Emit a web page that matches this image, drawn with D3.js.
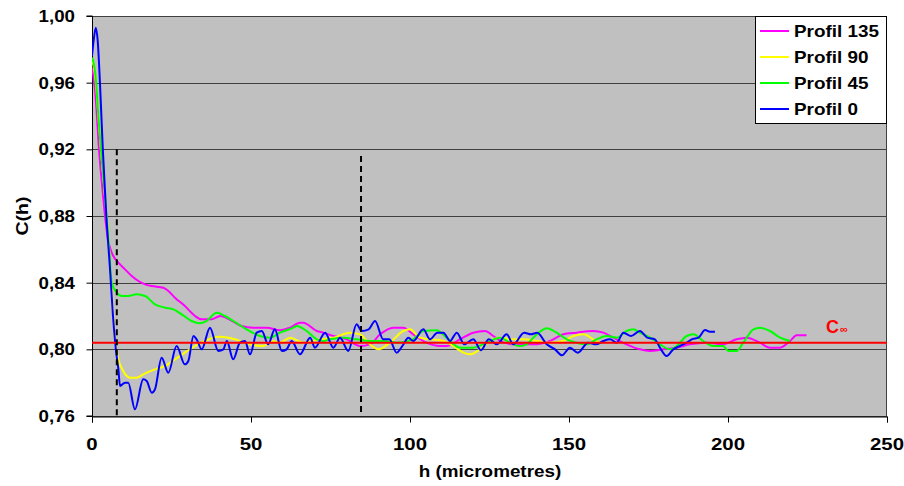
<!DOCTYPE html>
<html>
<head>
<meta charset="utf-8">
<script src="https://cdn.jsdelivr.net/npm/d3@7"></script>
<style>
  html, body { margin: 0; padding: 0; background: #ffffff; }
  svg { display: block; }
  text { font-family: "Liberation Sans", Arial, sans-serif; font-weight: bold; }
</style>
</head>
<body>
<svg id="chart" width="904" height="486"></svg>
<script>
// ---------------- DATA ----------------
const seriesNames = ["Profil 135", "Profil 90", "Profil 45", "Profil 0"];
const seriesColors = ["#FF00FF", "#FFFF00", "#00FF00", "#0000FF"];

const xTicks = [0, 50, 100, 150, 200, 250];
const xTickLabels = ["0", "50", "100", "150", "200", "250"];
const yTicks = [0.76, 0.80, 0.84, 0.88, 0.92, 0.96, 1.00];
const yTickLabels = ["0,76", "0,80", "0,84", "0,88", "0,92", "0,96", "1,00"];

const cInfinity = 0.804;
const dashedLines = [[7.8, 0.92], [84.6, 0.916]];   // [h, top value]

const profil135 = [[0,0.969],[0.5,0.963],[1.2,0.950],[2.2,0.920],[3.2,0.898],[4.1,0.880],[5,0.866],[6,0.859],[6.7,0.856],[8.3,0.852],[10.4,0.848],[12.5,0.844],[14.6,0.841],[16.7,0.839],[18.8,0.838],[22.4,0.837],[24,0.835],[26.1,0.831],[29.2,0.826],[32.4,0.820],[34.5,0.818],[37.6,0.818],[40.3,0.820],[42,0.819],[45,0.816],[47,0.814],[50.7,0.813],[55,0.813],[59.1,0.8114],[62.3,0.813],[65.4,0.816],[66.4,0.816],[70.7,0.811],[72.7,0.810],[75.9,0.808],[80.1,0.806],[84.3,0.802],[87.4,0.803],[90.6,0.809],[94.7,0.813],[97.9,0.813],[101,0.809],[105.2,0.804],[109.4,0.802],[111.5,0.802],[115.7,0.806],[119.9,0.810],[123.6,0.811],[126.2,0.808],[129.5,0.804],[133,0.803],[138.8,0.803],[144,0.805],[148.2,0.809],[152.4,0.810],[157.6,0.811],[160.8,0.810],[163.9,0.807],[168.1,0.803],[172.3,0.800],[175.5,0.799],[179.7,0.800],[183.9,0.801],[188,0.803],[193.3,0.804],[198.5,0.803],[202.7,0.806],[205.9,0.807],[210,0.804],[213.2,0.801],[216.4,0.801],[219.5,0.805],[221.6,0.8084],[224.7,0.8084]];

const profil90 = [[0,0.973],[0.5,0.970],[1.2,0.960],[2,0.940],[2.8,0.920],[3.7,0.900],[4.6,0.880],[5.4,0.860],[6.2,0.835],[7.2,0.806],[8.3,0.794],[9.8,0.787],[12,0.783],[14,0.783],[16.7,0.7856],[19.8,0.788],[23,0.790],[26.1,0.794],[29.2,0.798],[32.4,0.802],[35.5,0.805],[39.7,0.8076],[42.9,0.807],[45,0.806],[49.7,0.803],[53.9,0.802],[57,0.805],[59.1,0.804],[62.3,0.807],[66.4,0.804],[71.7,0.806],[75.9,0.807],[81.1,0.810],[84.3,0.809],[87.4,0.803],[90,0.800],[93.7,0.804],[97.9,0.811],[100,0.812],[103.1,0.807],[106.3,0.806],[110.5,0.805],[113.6,0.802],[116.8,0.798],[118.9,0.797],[122,0.800],[125.2,0.805],[128.3,0.807],[132,0.806],[135.6,0.806],[140,0.805],[144,0.804],[148.2,0.805],[151.4,0.808],[154.6,0.809],[157.6,0.806],[159.7,0.804]];

const profil45 = [[0,0.975],[0.5,0.972],[1.2,0.962],[2,0.940],[2.8,0.920],[3.7,0.900],[4.6,0.880],[5.4,0.860],[6.2,0.840],[7.8,0.834],[9.3,0.832],[11.4,0.832],[14,0.833],[16.7,0.832],[19.8,0.827],[23,0.825],[25.6,0.824],[28.2,0.821],[31.3,0.817],[34,0.8156],[36,0.817],[39.2,0.822],[41.8,0.820],[44.4,0.817],[48.6,0.812],[52.8,0.808],[56,0.807],[59.1,0.810],[63.3,0.813],[64.4,0.814],[67.5,0.811],[70.7,0.806],[72.7,0.805],[74.8,0.806],[79,0.807],[83.2,0.806],[87.4,0.805],[91.6,0.805],[95.8,0.804],[101,0.806],[104.2,0.811],[108.4,0.8115],[111.5,0.807],[115.7,0.801],[119.9,0.801],[124.1,0.804],[128.3,0.807],[131.4,0.804],[134.6,0.802],[136.7,0.803],[138.8,0.807],[143,0.8127],[146.1,0.810],[149.3,0.806],[152.4,0.804],[155.5,0.803],[158.7,0.806],[161.8,0.808],[165,0.807],[168.1,0.811],[170.2,0.812],[172.3,0.810],[175.5,0.807],[178.6,0.803],[181.8,0.800],[183.9,0.802],[187,0.808],[189.1,0.809],[192.2,0.805],[195.4,0.802],[198.5,0.802],[200.1,0.799],[202.7,0.799],[204.8,0.804],[208,0.812],[210,0.813],[213.2,0.811],[216.4,0.807],[219.5,0.805]];

const profil0 = [[0,0.976],[0.5,0.985],[1.2,0.993],[1.8,0.985],[2.5,0.960],[3.4,0.920],[4.5,0.880],[5.6,0.850],[6.6,0.820],[7.5,0.800],[8.3,0.788],[8.8,0.778],[10.4,0.780],[11.4,0.780],[13.5,0.764],[16.1,0.782],[17.2,0.781],[18.8,0.774],[19.8,0.776],[21.9,0.795],[24,0.786],[26.6,0.802],[29.2,0.791],[30.3,0.793],[31.9,0.808],[32.9,0.806],[34.5,0.800],[37.1,0.813],[39.7,0.799],[41.3,0.800],[42.4,0.805],[44.4,0.794],[46.5,0.804],[48.1,0.805],[49.7,0.797],[51.8,0.810],[53.4,0.811],[55.4,0.803],[57.5,0.812],[59.7,0.799],[61.2,0.800],[62.8,0.805],[65.4,0.797],[68.6,0.807],[70.1,0.801],[73.3,0.810],[75.9,0.801],[78,0.807],[80.6,0.799],[83.2,0.815],[84.8,0.811],[87,0.812],[89,0.817],[91.6,0.806],[93.5,0.806],[95.8,0.798],[97.6,0.802],[99.5,0.807],[101,0.805],[104.2,0.812],[106.3,0.806],[108.6,0.810],[110.5,0.810],[112.6,0.805],[114.7,0.810],[117.1,0.803],[119.9,0.806],[122.3,0.7995],[124.8,0.806],[127.3,0.803],[130.4,0.809],[132.5,0.803],[135.9,0.810],[138,0.809],[140,0.810],[143,0.803],[145.6,0.800],[147.8,0.7964],[150.3,0.801],[152.8,0.798],[156,0.804],[158.5,0.803],[160.8,0.805],[162.9,0.806],[165,0.804],[167.1,0.810],[169.5,0.808],[172.3,0.811],[174.6,0.807],[177,0.806],[178.6,0.801],[180.7,0.796],[182.8,0.800],[184.9,0.802],[187,0.804],[188.6,0.806],[190.7,0.807],[192.8,0.8116],[194.3,0.8106],[195.9,0.8106]];

const seriesData = [profil135, profil90, profil45, profil0];

// ---------------- DRAW ----------------
const svg = d3.select("#chart");
const plot = { left: 92, right: 887, top: 16, bottom: 416 };

const x = d3.scaleLinear().domain([0, 250]).range([plot.left, plot.right]);
const y = d3.scaleLinear().domain([0.76, 1.00]).range([plot.bottom, plot.top]);

function label(px, py, str, size, sx, anchor, color) {
  return svg.append("text")
    .attr("transform", `translate(${px},${py}) scale(${sx},1)`)
    .attr("text-anchor", anchor)
    .attr("font-size", size)
    .attr("fill", color || "#000")
    .text(str);
}

// plot background
svg.append("rect")
  .attr("x", plot.left).attr("y", plot.top)
  .attr("width", plot.right - plot.left).attr("height", plot.bottom - plot.top)
  .attr("fill", "#C0C0C0");

// gridlines
svg.append("g").selectAll("line")
  .data(yTicks.filter(t => t > 0.77 && t < 0.99))
  .join("line")
  .attr("x1", plot.left).attr("x2", plot.right)
  .attr("y1", d => Math.round(y(d)) + 0.5).attr("y2", d => Math.round(y(d)) + 0.5)
  .attr("stroke", "#404040").attr("stroke-width", 1);

// border
svg.append("rect")
  .attr("x", plot.left + 0.5).attr("y", plot.top + 0.5)
  .attr("width", plot.right - plot.left - 1).attr("height", plot.bottom - plot.top)
  .attr("fill", "none").attr("stroke", "#404040").attr("stroke-width", 1);

// axes (lines + ticks via d3 axes)
const yAxis = d3.axisLeft(y).tickValues(yTicks).tickSize(6).tickFormat("");
const xAxis = d3.axisBottom(x).tickValues(xTicks).tickSize(6).tickFormat("");
const gy = svg.append("g").attr("transform", `translate(${plot.left + 0.5},0)`).call(yAxis);
const gx = svg.append("g").attr("transform", `translate(0,${plot.bottom + 0.5})`).call(xAxis);
[gy, gx].forEach(g => {
  g.selectAll("path").attr("stroke", "#000").attr("stroke-width", 1);
  g.selectAll("line").attr("stroke", "#000");
});
gy.select(".domain").attr("d", `M-6,${plot.top}H0V${plot.bottom}H-6`);

// tick labels
yTicks.forEach((t, i) => label(75, y(t) + 6, yTickLabels[i], 17, 1.1, "end"));
xTicks.forEach((t, i) => label(x(t), 450, xTickLabels[i], 17, 1.2, "middle"));

// axis titles
label(490, 477, "h (micrometres)", 17, 1.11, "middle");
svg.append("text")
  .attr("transform", `translate(28,216) rotate(-90) scale(1.15,1)`)
  .attr("text-anchor", "middle").attr("font-size", 17)
  .text("C(h)");

// series lines
const line = d3.line().x(d => x(d[0])).y(d => y(d[1])).curve(d3.curveMonotoneX);
const clip = svg.append("clipPath").attr("id", "clip").append("rect")
  .attr("x", plot.left).attr("y", plot.top - 2)
  .attr("width", plot.right - plot.left).attr("height", plot.bottom - plot.top + 2);

svg.append("g").attr("clip-path", "url(#clip)")
  .selectAll("path")
  .data(seriesData)
  .join("path")
  .attr("d", line)
  .attr("fill", "none")
  .attr("stroke", (d, i) => seriesColors[i])
  .attr("stroke-width", 2)
  .attr("stroke-linejoin", "round");

// C infinity line
svg.append("line")
  .attr("x1", plot.left).attr("x2", plot.right)
  .attr("y1", y(cInfinity)).attr("y2", y(cInfinity))
  .attr("stroke", "#FF0000").attr("stroke-width", 2);

// dashed vertical lines
svg.append("g").selectAll("line")
  .data(dashedLines)
  .join("line")
  .attr("x1", d => x(d[0])).attr("x2", d => x(d[0]))
  .attr("y1", d => y(d[1])).attr("y2", y(0.76))
  .attr("stroke", "#000").attr("stroke-width", 2)
  .attr("stroke-dasharray", "6,4");

// C infinity label
const cl = svg.append("text")
  .attr("x", 826).attr("y", 333)
  .attr("font-size", 18).attr("fill", "#FF0000");
cl.append("tspan").text("C");
cl.append("tspan").attr("font-size", 11).attr("dx", 1).attr("dy", 0).text("∞");

// legend
const lg = svg.append("g");
lg.append("rect")
  .attr("x", 755.5).attr("y", 16.5).attr("width", 131).attr("height", 107)
  .attr("fill", "#fff").attr("stroke", "#000").attr("stroke-width", 1);
const legendY = [31, 57, 83, 109];
seriesNames.forEach((name, i) => {
  lg.append("line")
    .attr("x1", 760).attr("x2", 789)
    .attr("y1", legendY[i]).attr("y2", legendY[i])
    .attr("stroke", seriesColors[i]).attr("stroke-width", 2);
  label(794, legendY[i] + 6, name, 16, 1.18, "start");
});
</script>
</body>
</html>
